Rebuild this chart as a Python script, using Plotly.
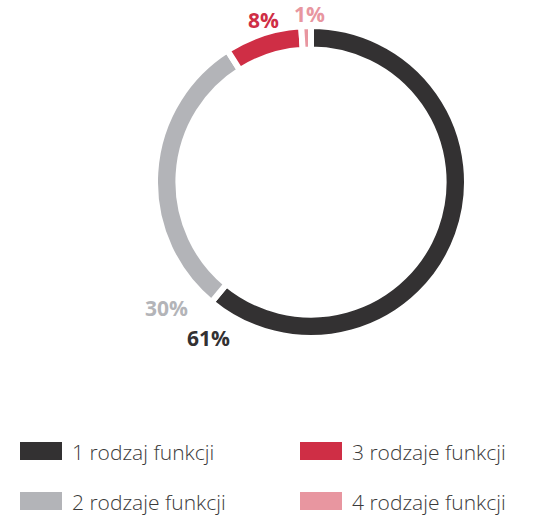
import plotly.graph_objects as go

W, H = 547, 515

labels = ["1 rodzaj funkcji", "2 rodzaje funkcji", "3 rodzaje funkcji", "4 rodzaje funkcji"]
values = [61, 30, 8, 1]
colors = ["#333132", "#b3b4b8", "#cf2e45", "#e896a0"]

# where the percentage labels sit (pixels from top-left), same order as labels
label_pos = [(208, 338), (166, 308), (263, 20), (309, 14)]
# custom legend: column/row for each category
legend_cell = [(0, 0), (0, 1), (1, 0), (1, 1)]


def px(x):
    return x / W


def py(y):
    return 1 - y / H


fig = go.Figure(go.Pie(
    labels=labels,
    values=values,
    marker=dict(colors=colors, line=dict(color="white", width=6)),
    hole=0.85,
    sort=False,
    direction="clockwise",
    rotation=0,
    textinfo="none",
    hoverinfo="label+percent",
    showlegend=False,
    domain=dict(x=[px(155), px(467)], y=[py(338), py(26)]),
))

annotations = []
for v, c, (x, y) in zip(values, colors, label_pos):
    annotations.append(dict(
        x=px(x), y=py(y), xref="paper", yref="paper",
        text=f"{v}%", showarrow=False,
        font=dict(family="Open Sans", size=21, color=c, weight=700),
        xanchor="center", yanchor="middle",
    ))

shapes = []
for lab, c, (col, row) in zip(labels, colors, legend_cell):
    x0 = 20 + col * 280
    yc = 451 + row * 50
    shapes.append(dict(
        type="rect", xref="paper", yref="paper",
        x0=px(x0), x1=px(x0 + 42), y0=py(yc + 9), y1=py(yc - 9),
        fillcolor=c, line=dict(width=0),
    ))
    annotations.append(dict(
        x=px(x0 + 50), y=py(yc + 1), xref="paper", yref="paper",
        text=lab, showarrow=False,
        font=dict(family="Open Sans", size=21, color="#3a3a3a", weight=300),
        xanchor="left", yanchor="middle",
    ))

fig.update_layout(
    width=W, height=H,
    margin=dict(l=0, r=0, t=0, b=0),
    paper_bgcolor="white",
    plot_bgcolor="white",
    annotations=annotations,
    shapes=shapes,
)

fig.write_html("out.html", config={"displayModeBar": False},
               post_script="document.body.style.margin='0';")
